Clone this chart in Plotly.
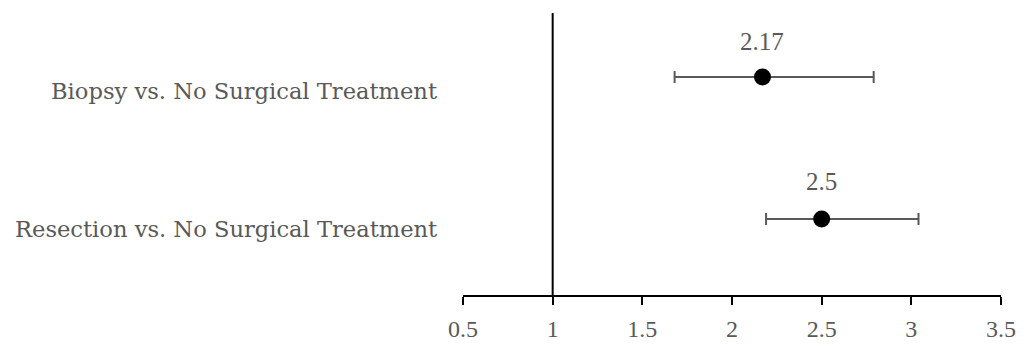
import plotly.graph_objects as go

categories = ["Biopsy vs. No Surgical Treatment", "Resection vs. No Surgical Treatment"]
estimates = [2.17, 2.5]
ci_low = [1.68, 2.19]
ci_high = [2.79, 3.04]
value_labels = ["2.17", "2.5"]
row_pos = [2, 1]
x_ticks = [0.5, 1, 1.5, 2, 2.5, 3, 3.5]
x_tick_text = ["0.5", "1", "1.5", "2", "2.5", "3", "3.5"]
label_shift = [-14, -10]
value_shift = [35, 37]

FONT = "Liberation Serif"
LABEL_FONT = "DejaVu Serif"
GRAY = "#595959"

fig = go.Figure()
fig.add_trace(go.Scatter(
    x=estimates, y=row_pos, mode="markers",
    marker=dict(color="black", size=17),
    error_x=dict(type="data", symmetric=False,
                 array=[h - e for h, e in zip(ci_high, estimates)],
                 arrayminus=[e - l for l, e in zip(ci_low, estimates)],
                 color=GRAY, thickness=2, width=6),
    showlegend=False, hoverinfo="x+y",
))

fig.add_shape(type="line", x0=1, x1=1, xref="x", y0=0, y1=1, yref="paper",
              line=dict(color="black", width=2))

for v, t, y, s in zip(estimates, value_labels, row_pos, value_shift):
    fig.add_annotation(x=v, y=y, text=t, showarrow=False, yshift=s,
                       font=dict(family=FONT, size=25, color=GRAY))

for c, y, s in zip(categories, row_pos, label_shift):
    fig.add_annotation(x=0, xref="paper", y=y, text=c, showarrow=False,
                       xanchor="right", xshift=-24, yshift=s,
                       font=dict(family=LABEL_FONT, size=22.6, color=GRAY))

fig.update_layout(
    width=1030, height=345,
    margin=dict(l=463, r=29, t=13, b=50, autoexpand=False),
    paper_bgcolor="white", plot_bgcolor="white",
    font=dict(family=FONT, size=25, color=GRAY),
    xaxis=dict(range=[0.5, 3.5], tickvals=x_ticks, ticktext=x_tick_text,
               showline=True, linecolor="black", linewidth=2,
               ticks="outside", ticklen=8, tickwidth=2, tickcolor="black",
               ticklabelstandoff=3, automargin=False,
               showgrid=False, zeroline=False,
               tickfont=dict(family=FONT, size=24, color=GRAY)),
    yaxis=dict(range=[0.465, 2.45], showticklabels=False, showgrid=False,
               zeroline=False, showline=False, automargin=False),
)

fig.write_html("out.html", config={"displayModeBar": False},
               post_script="document.body.style.margin='0px';")
